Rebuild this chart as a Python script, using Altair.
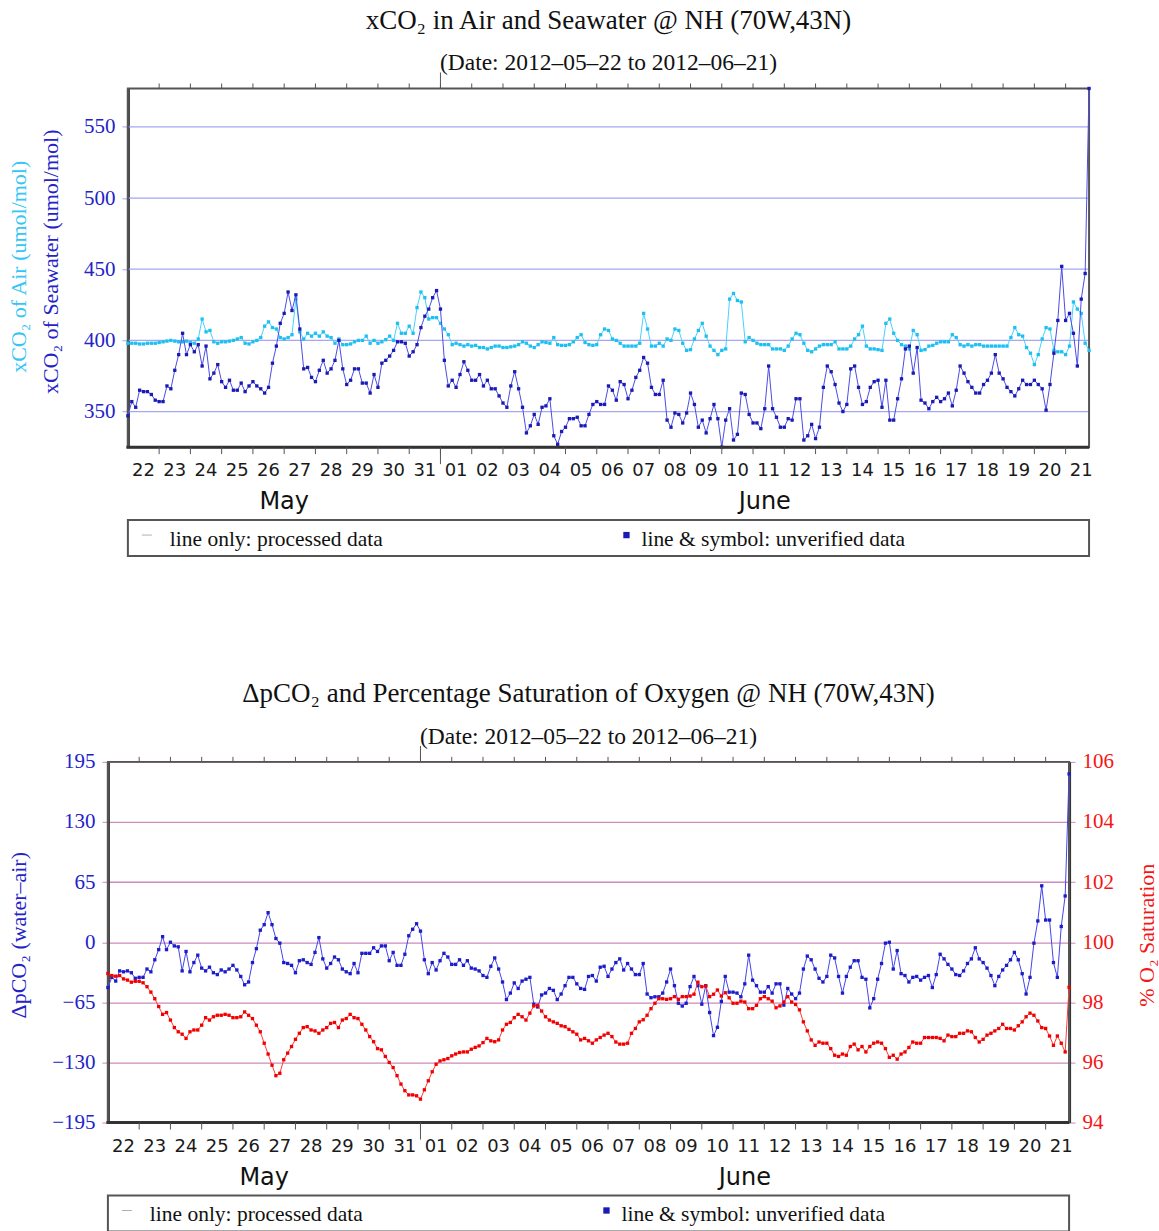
import json
import altair as alt
import pandas as pd

# ---------------- data ----------------
TITLE_TOP = "xCO₂ in Air and Seawater @ NH (70W,43N)"
TITLE_BOTTOM = "ΔpCO₂ and Percentage Saturation of Oxygen @ NH (70W,43N)"
SUBTITLE = "(Date: 2012–05–22 to 2012–06–21)"
YTITLE_AIR = "xCO₂ of Air (umol/mol)"
YTITLE_SW = "xCO₂ of Seawater (umol/mol)"
YTITLE_DP = "ΔpCO₂ (water–air)"
YTITLE_O2 = "% O₂ Saturation"
LEGEND_LEFT = "line only: processed data"
LEGEND_RIGHT = "line & symbol: unverified data"

DAY_LABELS = ["22", "23", "24", "25", "26", "27", "28", "29", "30", "31",
              "01", "02", "03", "04", "05", "06", "07", "08", "09", "10",
              "11", "12", "13", "14", "15", "16", "17", "18", "19", "20", "21"]
MONTHS = ["May", "June"]
MONTH_BOUNDS_H = [0, 240, 738]      # hours since 2012-05-22 00:00
STEP_H = 3                           # sampling interval (hours)

XCO2_AIR = [
    398, 398, 398, 397.5, 397.5, 398, 398, 398, 398.5, 399,
    399.5, 400, 399.5, 399, 399, 399.5, 398.5, 398, 401, 415,
    406, 407, 399, 398, 399, 399, 399.5, 400, 401, 402,
    398, 397.5, 399, 400, 402, 410, 413, 409, 408, 402,
    401, 402, 404, 429, 406, 401, 405, 403, 405, 403,
    406, 403, 402, 398, 401, 397, 397, 397.5, 399, 400,
    400, 403, 398, 400, 398, 399, 400.5, 403, 400, 412,
    405, 405, 410, 405, 423, 434, 430, 415, 416, 416,
    412, 408, 404, 397, 398, 397, 396, 397, 396, 396.5,
    395, 395, 394, 395, 396, 396, 395, 395, 395.5, 396,
    397, 399, 398, 396, 395, 397, 399, 398.5, 398, 402,
    397, 396.5, 396.5, 397, 399, 402, 404, 398.5, 397, 396.5,
    397, 404, 408, 407, 401, 400, 398, 396, 396, 396,
    396, 398, 419, 408, 396, 396, 398, 396, 401, 400,
    408, 407, 398, 393, 393.5, 401, 407, 412, 403, 396,
    393, 390, 393, 394, 429, 433, 428, 427, 399, 402,
    400, 398, 397, 397, 397, 394, 394, 394, 393, 396,
    401, 405, 404, 398, 393, 392, 394, 396, 397, 397,
    397, 399, 394, 394, 394, 396, 401, 404, 410, 396,
    394, 394, 393.5, 393, 412, 415, 405, 400, 397, 396,
    394, 407, 404, 393, 393.5, 396, 396.5, 398, 399, 399,
    399, 404, 402, 397, 396, 397, 396, 397, 397, 396,
    396, 396, 396, 396, 396, 396, 402, 409, 404, 403,
    395, 391, 383, 390, 401, 409, 408, 393, 392, 392,
    390, 396, 427, 422, 419, 398, 393]

XCO2_SW = [
    347, 357, 353, 365, 364, 364, 362, 358, 357, 357,
    368, 366, 379, 390, 405, 390, 397, 392, 397, 382,
    396, 373, 377, 383, 371, 367, 372, 365, 365, 370,
    364, 368, 371, 368, 366, 363, 367, 384, 396, 412,
    419, 434, 421, 432, 408, 380, 381, 374, 371, 379,
    386, 377, 380, 386, 400, 380, 369, 372, 380, 380,
    370, 370, 363, 376, 367, 384, 386, 389, 393, 399,
    399, 398, 389, 392, 397, 409, 417, 422, 430, 435,
    422, 386, 368, 372, 367, 376, 385, 379, 372, 372,
    376, 368, 372, 366, 366, 361, 356, 353, 368, 378,
    366, 353, 335, 340, 348, 341, 353, 354, 359, 333,
    327, 336, 339, 345, 345, 346, 340, 340, 348, 355,
    357, 355, 355, 368, 365, 358, 371, 369, 359, 365,
    374, 379, 388, 384, 367, 362, 362, 372, 344, 339,
    349, 348, 342, 349, 363, 355, 339, 344, 335, 345,
    355, 345, 325, 344, 352, 330, 334, 363, 362, 348,
    342, 342, 338, 352, 382, 352, 346, 339, 339, 345,
    344, 359, 359, 330, 333, 341, 331, 339, 367, 382,
    378, 369, 356, 350, 355, 380, 382, 367, 355, 357,
    367, 371, 372, 353, 372, 344, 344, 359, 373, 394,
    396, 377, 395, 358, 356, 352, 357, 360, 357, 359,
    363, 354, 365, 382, 377, 371, 367, 363, 363, 369,
    372, 377, 390, 377, 373, 367, 364, 361, 366, 372,
    369, 369, 372, 369, 366, 351, 369, 391, 414, 452,
    414, 419, 405, 382, 429, 447, 577]

DPCO2 = [
    -49, -38, -42, -31, -32, -31, -33, -39, -38, -38,
    -29, -32, -19, -8, 6, -8, 0, -4, -5, -31,
    -10, -32, -22, -14, -28, -31, -27, -33, -35, -30,
    -32, -29, -25, -30, -37, -46, -43, -22, -7, 13,
    19, 32, 19, 4, -1, -22, -23, -25, -33, -20,
    -19, -22, -24, -11, 5, -18, -28, -23, -16, -19,
    -29, -32, -34, -23, -33, -12, -12, -12, -6, -10,
    -4, -4, -20, -11, -25, -25, -13, 7, 14, 20,
    12, -19, -34, -22, -30, -20, -12, -16, -24, -24,
    -19, -25, -20, -28, -29, -31, -36, -38, -26, -17,
    -29, -43, -62, -55, -44, -50, -42, -40, -38, -67,
    -70, -57, -55, -50, -52, -62, -56, -47, -38, -38,
    -45, -50, -51, -37, -36, -42, -27, -26, -37, -29,
    -22, -18, -30, -23, -29, -35, -35, -23, -56, -60,
    -59, -59, -55, -43, -29, -47, -66, -69, -66, -48,
    -37, -47, -67, -47, -76, -101, -92, -64, -37, -54,
    -54, -55, -59, -45, -14, -41, -47, -54, -54, -48,
    -55, -45, -45, -68, -50, -56, -61, -55, -29, -15,
    -19, -29, -39, -43, -37, -14, -17, -37, -55, -37,
    -27, -20, -20, -38, -40, -71, -61, -40, -23, -1,
    0, -29, -9, -34, -36, -43, -38, -37, -41, -38,
    -36, -49, -35, -13, -18, -24, -29, -35, -36, -31,
    -23, -18, -6, -18, -22, -28, -36, -47, -37, -30,
    -25, -19, -11, -19, -34, -56, -38, -1, 23, 61,
    24, 24, -22, -38, 17, 50, 182]

O2_SAT = [
    98.96, 98.89, 98.87, 98.89, 98.78, 98.74, 98.67, 98.70, 98.70, 98.65,
    98.52, 98.34, 98.12, 97.86, 97.60, 97.66, 97.41, 97.16, 97.02, 96.94,
    96.80, 97.02, 97.08, 97.08, 97.24, 97.49, 97.41, 97.52, 97.57, 97.57,
    97.60, 97.57, 97.49, 97.49, 97.52, 97.68, 97.57, 97.46, 97.24, 97.02,
    96.64, 96.28, 95.91, 95.56, 95.64, 96.09, 96.31, 96.53, 96.77, 96.97,
    97.16, 97.19, 97.08, 97.05, 96.97, 97.08, 97.16, 97.30, 97.33, 97.16,
    97.41, 97.46, 97.60, 97.49, 97.46, 97.27, 97.08, 96.86, 96.69, 96.46,
    96.42, 96.20, 96.00, 95.83, 95.56, 95.28, 95.06, 94.92, 94.92, 94.89,
    94.78, 95.09, 95.39, 95.69, 95.94, 96.05, 96.09, 96.13, 96.22, 96.28,
    96.33, 96.35, 96.35, 96.44, 96.50, 96.55, 96.66, 96.80, 96.72, 96.69,
    96.75, 97.08, 97.27, 97.33, 97.49, 97.60, 97.52, 97.41, 97.64, 97.88,
    97.90, 97.71, 97.52, 97.41, 97.35, 97.30, 97.22, 97.19, 97.10, 97.02,
    96.94, 96.75, 96.80, 96.72, 96.64, 96.75, 96.83, 96.91, 96.97, 96.86,
    96.68, 96.61, 96.61, 96.64, 96.97, 97.13, 97.35, 97.42, 97.57, 97.79,
    97.97, 98.12, 98.12, 98.10, 98.12, 98.19, 98.10, 98.19, 98.19, 98.21,
    98.27, 98.67, 98.52, 98.54, 98.19, 98.27, 98.41, 98.21, 98.32, 98.15,
    97.97, 97.97, 98.04, 98.01, 97.79, 97.79, 97.90, 98.12, 98.19, 98.12,
    98.04, 97.82, 97.88, 98.01, 98.19, 98.01, 97.93, 97.75, 97.35, 97.05,
    96.75, 96.57, 96.68, 96.64, 96.64, 96.46, 96.24, 96.20, 96.28, 96.24,
    96.53, 96.61, 96.42, 96.53, 96.35, 96.53, 96.64, 96.68, 96.64, 96.46,
    96.17, 96.24, 96.11, 96.28, 96.35, 96.50, 96.68, 96.64, 96.64, 96.83,
    96.83, 96.83, 96.83, 96.80, 96.72, 96.91, 96.86, 96.86, 96.97, 96.97,
    97.05, 97.02, 96.83, 96.68, 96.77, 96.91, 96.97, 97.05, 97.13, 97.27,
    97.13, 97.13, 97.08, 97.22, 97.35, 97.52, 97.64, 97.57, 97.38, 97.16,
    97.13, 96.88, 96.57, 96.88, 96.64, 96.35, 98.50]

Y1_TICKS = [350, 400, 450, 500, 550]
Y1_DOMAIN = [325, 577]
DP_TICKS = [-195, -130, -65, 0, 65, 130, 195]
O2_TICKS = [94, 96, 98, 100, 102, 104, 106]

# ---------------- styling ----------------
W = 962          # data-area width of each panel
X0_TOP = 20      # top panel data area starts 20px right of the bottom one
H1 = 359
H2 = 361
SERIF = "Liberation Serif"
SANS = "DejaVu Sans"
AIR_LINE, AIR_PT = "#45d2ff", "#1ec0f2"
SW_LINE, SW_PT = "#4b4be6", "#1a1ab4"
DP_LINE, DP_PT = "#4343ee", "#1c1cc8"
O2_LINE, O2_PT = "#ff3a3a", "#f20000"
AXIS_BLUE = "#2323c8"
RED = "#f51515"
GRID_TOP = "#a6a6f2"
GRID_BOT = "#cc8cbc"
DARK = "#333333"

n = len(XCO2_AIR)
hours = [STEP_H * i for i in range(n)]
top_df = pd.DataFrame({"h": hours, "air": XCO2_AIR, "sw": XCO2_SW})
bot_df = pd.DataFrame({"h": hours, "dp": DPCO2, "o2": O2_SAT})

day_ticks = pd.DataFrame({"h": [24 * k for k in range(1, len(DAY_LABELS))]})
day_labels = pd.DataFrame({"h": [12 + 24 * k for k in range(len(DAY_LABELS))], "d": DAY_LABELS})
month_ticks = pd.DataFrame({"h": MONTH_BOUNDS_H[1:-1]})
month_df = pd.DataFrame({
    "m": MONTHS,
    "h": [(MONTH_BOUNDS_H[i] + MONTH_BOUNDS_H[i + 1]) / 2 for i in range(len(MONTHS))],
})
one = pd.DataFrame({"a": [0]})


def txt(s):
    return alt.Chart(pd.DataFrame({"t": [s]}))


def decorations(H, x0, xs, title):
    """Frame, ticks, day/month labels, title, subtitle and legend box of a panel."""
    X = alt.X("h:Q", scale=xs, axis=None)
    L = []
    # bottom axis line (thick)
    L.append(alt.Chart(one).mark_rule(color=DARK, strokeWidth=3).encode(
        x=alt.value(x0 - 1.5), x2=alt.value(x0 + W), y=alt.value(H)))
    # day ticks top & bottom
    L.append(alt.Chart(day_ticks).mark_rule(color="#555555", strokeWidth=1).encode(
        x=X, y=alt.value(-5), y2=alt.value(0)))
    L.append(alt.Chart(day_ticks).mark_rule(color="#555555", strokeWidth=1).encode(
        x=X, y=alt.value(H), y2=alt.value(H + 7)))
    L.append(alt.Chart(month_ticks).mark_rule(color="#555555", strokeWidth=1).encode(
        x=X, y=alt.value(-16), y2=alt.value(0)))
    L.append(alt.Chart(month_ticks).mark_rule(color="#555555", strokeWidth=1).encode(
        x=X, y=alt.value(H), y2=alt.value(H + 17)))
    # day & month labels
    L.append(alt.Chart(day_labels).mark_text(font=SANS, fontSize=18, color="#1a1a1a",
                                             baseline="middle").encode(
        x=X, y=alt.value(H + 24), text="d:N"))
    L.append(alt.Chart(month_df).mark_text(font=SANS, fontSize=24, color="#111111",
                                           baseline="middle").encode(
        x=X, y=alt.value(H + 55), text="m:N"))
    # legend box
    L.append(alt.Chart(one).mark_rect(fill="white", stroke="#555555", strokeWidth=2).encode(
        x=alt.value(x0), x2=alt.value(x0 + W), y=alt.value(H + 73), y2=alt.value(H + 109)))
    L.append(alt.Chart(one).mark_rule(color="#b0b0b0", strokeWidth=1).encode(
        x=alt.value(x0 + 14), x2=alt.value(x0 + 24), y=alt.value(H + 88)))
    L.append(txt(LEGEND_LEFT).mark_text(font=SERIF, fontSize=21.5, color="#111111",
                                        align="left", baseline="middle").encode(
        x=alt.value(x0 + 42), y=alt.value(H + 93), text="t:N"))
    L.append(alt.Chart(one).mark_square(size=40, color=SW_PT, opacity=1).encode(
        x=alt.value(x0 + 499), y=alt.value(H + 88)))
    L.append(txt(LEGEND_RIGHT).mark_text(font=SERIF, fontSize=21.5, color="#111111",
                                         align="left", baseline="middle").encode(
        x=alt.value(x0 + 514), y=alt.value(H + 93), text="t:N"))
    # titles
    L.append(txt(title).mark_text(font=SERIF, fontSize=27, color="#111111",
                                  baseline="middle").encode(
        x=alt.value(x0 + W / 2), y=alt.value(-68), text="t:N"))
    L.append(txt(SUBTITLE).mark_text(font=SERIF, fontSize=23.5, color="#111111",
                                     baseline="middle").encode(
        x=alt.value(x0 + W / 2), y=alt.value(-25), text="t:N"))
    return L


def frame(H, x0):
    return alt.Chart(one).mark_rect(fill="transparent", stroke="#555555", strokeWidth=2).encode(
        x=alt.value(x0), x2=alt.value(x0 + W), y=alt.value(0), y2=alt.value(H))


# ---------------- top panel ----------------
xs_top = alt.Scale(domain=[MONTH_BOUNDS_H[0], MONTH_BOUNDS_H[-1]],
                   range=[X0_TOP, X0_TOP + W], nice=False, zero=False)
y1_scale = alt.Scale(domain=Y1_DOMAIN, nice=False, zero=False)
y1_axis = alt.Axis(values=Y1_TICKS, title=None, grid=False, offset=-X0_TOP,
                   tickColor=GRID_TOP, tickSize=6, labelFont=SERIF, labelFontSize=21,
                   labelColor=AXIS_BLUE, labelPadding=7, domainColor=DARK, domainWidth=3)
grid_top = pd.DataFrame({"v": Y1_TICKS})
tb = alt.Chart(top_df)
XT = alt.X("h:Q", scale=xs_top, axis=None)
top_layers = [
    alt.Chart(grid_top).mark_rule(color=GRID_TOP, strokeWidth=1.3).encode(
        x=alt.value(X0_TOP), x2=alt.value(X0_TOP + W),
        y=alt.Y("v:Q", scale=y1_scale, axis=y1_axis)),
    frame(H1, X0_TOP),
    tb.mark_line(color=AIR_LINE, strokeWidth=1).encode(x=XT, y=alt.Y("air:Q", scale=y1_scale)),
    tb.mark_square(size=11, color=AIR_PT, opacity=1).encode(x=XT, y=alt.Y("air:Q", scale=y1_scale)),
    tb.mark_line(color=SW_LINE, strokeWidth=1).encode(x=XT, y=alt.Y("sw:Q", scale=y1_scale)),
    tb.mark_square(size=11, color=SW_PT, opacity=1).encode(x=XT, y=alt.Y("sw:Q", scale=y1_scale)),
    txt(YTITLE_AIR).mark_text(font=SERIF, fontSize=22, color="#33c6f5", angle=270,
                              baseline="middle").encode(
        x=alt.value(-89), y=alt.value(H1 / 2 - 1), text="t:N"),
    txt(YTITLE_SW).mark_text(font=SERIF, fontSize=22, color=AXIS_BLUE, angle=270,
                             baseline="middle").encode(
        x=alt.value(-57), y=alt.value(H1 / 2 - 6), text="t:N"),
] + decorations(H1, X0_TOP, xs_top, TITLE_TOP)
top = alt.layer(*top_layers).properties(width=W + X0_TOP, height=H1)

# ---------------- bottom panel ----------------
xs_bot = alt.Scale(domain=[MONTH_BOUNDS_H[0], MONTH_BOUNDS_H[-1]], nice=False, zero=False)
XB = alt.X("h:Q", scale=xs_bot, axis=None)
dp_scale = alt.Scale(domain=[DP_TICKS[0], DP_TICKS[-1]], nice=False, zero=False)
o2_scale = alt.Scale(domain=[O2_TICKS[0], O2_TICKS[-1]], nice=False, zero=False)
dp_axis = alt.Axis(values=DP_TICKS, title=None, grid=True, gridColor=GRID_BOT, gridWidth=1.3,
                   tickColor=GRID_BOT, tickSize=6, labelFont=SERIF, labelFontSize=21,
                   labelColor=AXIS_BLUE, labelPadding=7, domainColor=DARK, domainWidth=3)
o2_axis = alt.Axis(values=O2_TICKS, title=None, grid=False, orient="right",
                   tickColor=GRID_BOT, tickSize=6, labelFont=SERIF, labelFontSize=21,
                   labelColor=RED, labelPadding=7, domainColor=DARK, domainWidth=3)
bb = alt.Chart(bot_df)
left_part = alt.layer(
    frame(H2, 0),
    bb.mark_line(color=DP_LINE, strokeWidth=1).encode(
        x=XB, y=alt.Y("dp:Q", scale=dp_scale, axis=dp_axis)),
    bb.mark_square(size=11, color=DP_PT, opacity=1).encode(
        x=XB, y=alt.Y("dp:Q", scale=dp_scale)),
)
right_part = alt.layer(
    bb.mark_line(color=O2_LINE, strokeWidth=1).encode(
        x=XB, y=alt.Y("o2:Q", scale=o2_scale, axis=o2_axis)),
    bb.mark_square(size=11, color=O2_PT, opacity=1).encode(
        x=XB, y=alt.Y("o2:Q", scale=o2_scale)),
)
bottom_extra = [
    txt(YTITLE_DP).mark_text(font=SERIF, fontSize=22, color=AXIS_BLUE, angle=270,
                             baseline="middle").encode(
        x=alt.value(-89), y=alt.value(H2 / 2 - 7), text="t:N"),
    txt(YTITLE_O2).mark_text(font=SERIF, fontSize=22, color=RED, angle=270,
                             baseline="middle").encode(
        x=alt.value(W + 78), y=alt.value(H2 / 2 - 7), text="t:N"),
] + decorations(H2, 0, xs_bot, TITLE_BOTTOM)
bottom = alt.layer(left_part, right_part, *bottom_extra).resolve_scale(
    y="independent").properties(width=W, height=H2)

chart = alt.vconcat(top, bottom, spacing=121).properties(
    padding={"left": 7, "top": 5, "right": 0, "bottom": 0},
    background="white",
).configure_view(stroke="transparent")

chart.save("out.html", embed_options={"renderer": "svg", "actions": False})
